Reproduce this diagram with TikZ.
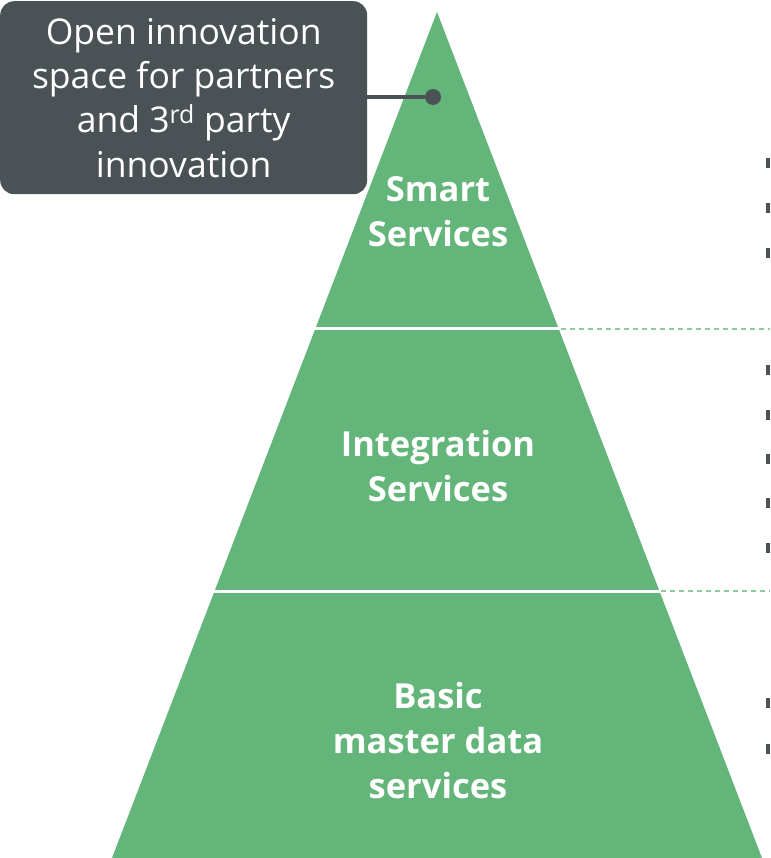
\documentclass[tikz,border=0pt]{standalone}
\usepackage{fontspec}
\setmainfont{Open Sans}
\usetikzlibrary{calc,positioning}
\definecolor{pyrgreen}{RGB}{99,181,122}
\definecolor{slate}{RGB}{74,82,86}
\definecolor{dashgreen}{RGB}{140,202,156}
\begin{document}
\begin{tikzpicture}[x=1pt,y=-1pt,
    layer label/.style={text=white,font=\fontsize{34.5}{45}\selectfont\bfseries,align=center},
    callout box/.style={fill=slate,rounded corners=14pt,text=white,font=\fontsize{35.5}{44.3}\selectfont,align=center,minimum width=367pt,minimum height=193pt,inner sep=0pt},
    split line/.style={white,line width=3pt},
    guide line/.style={dashgreen,line width=1.5pt,dash pattern=on 5pt off 4pt},
    bullet sq/.style={fill=slate}]
    \useasboundingbox (0,0) rectangle (770,858);
    \coordinate (apex) at (437,12);
    \coordinate (bl) at (112,858);
    \coordinate (br) at (762,858);
    \coordinate (edge) at (770,0);
    \fill[pyrgreen] (apex) -- (br) -- (bl) -- cycle;
    % layer splits and guide lines
    \foreach \t/\n in {0.3747/a,0.6844/b} {
        \coordinate (l\n) at ($(apex)!\t!(bl)$);
        \coordinate (r\n) at ($(apex)!\t!(br)$);
        \draw[split line] ($(l\n)+(-3,0)$) -- ($(r\n)+(2,0)$);
        \draw[guide line] ($(r\n)+(2,0)$) -- (r\n -| edge);
    }
    \node[layer label] (smart) at (438,212) {Smart\\Services};
    \node[layer label] (integ) at (438,466) {Integration\\Services};
    \node[layer label] (basic) at (438,741) {Basic\\master data\\services};
    % callout
    \node[callout box,anchor=north west] (open) at (0,1) {Open innovation\\space for partners\\and 3\textsuperscript{rd} party\\innovation};
    \node[circle,fill=slate,minimum size=16pt,inner sep=0pt] (pin) at (433,97) {};
    \draw[slate,line width=4pt] (open.east |- pin) -- (pin);
    % bullets
    \foreach \y in {163,208,253,370,415,459,503,548,703,749}
        \fill[bullet sq] (766,\y-5) rectangle (770,\y+5);
\end{tikzpicture}
\end{document}
